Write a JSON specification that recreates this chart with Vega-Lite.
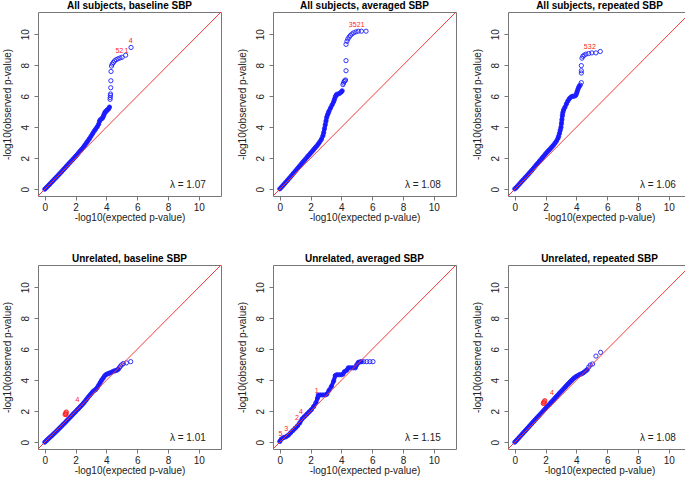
{
"$schema": "https://vega.github.io/schema/vega-lite/v6.json",
"padding": {"left": 1, "top": 0, "right": 0, "bottom": 0},
"background": "white",
"config": {"font": "Liberation Sans", "view": {"stroke": "#777", "strokeWidth": 1},
  "axis": {"grid": false, "domain": false, "tickColor": "#777", "tickSize": 4, "labelFontSize": 10, "titleFontSize": 10, "titleFontWeight": "normal", "labelColor": "#222", "titleColor": "#222", "labelOverlap": false, "labelFlush": false},
  "axisX": {"labelPadding": 2, "titlePadding": 0},
  "axisY": {"labelPadding": 4, "titlePadding": 8, "labelAngle": -90, "labelAlign": "center", "labelBaseline": "bottom"}},
"data": {"values": [
{"p":1,"e":0,"o":0},{"p":1,"e":0.1,"o":0.1},{"p":1,"e":0.2,"o":0.2},{"p":1,"e":0.3,"o":0.3},{"p":1,"e":0.4,"o":0.41},{"p":1,"e":0.5,"o":0.51},{"p":1,"e":0.6,"o":0.62},{"p":1,"e":0.7,"o":0.72},{"p":1,"e":0.8,"o":0.82},{"p":1,"e":0.9,"o":0.93},{"p":1,"e":1.0,"o":1.03},{"p":1,"e":1.1,"o":1.14},{"p":1,"e":1.2,"o":1.25},{"p":1,"e":1.3,"o":1.36},{"p":1,"e":1.4,"o":1.47},{"p":1,"e":1.5,"o":1.58},{"p":1,"e":1.6,"o":1.69},{"p":1,"e":1.7,"o":1.79},{"p":1,"e":1.8,"o":1.9},{"p":1,"e":1.9,"o":2.01},{"p":1,"e":2.0,"o":2.12},{"p":1,"e":2.1,"o":2.23},{"p":1,"e":2.2,"o":2.35},{"p":1,"e":2.3,"o":2.47},{"p":1,"e":2.4,"o":2.58},{"p":1,"e":2.5,"o":2.7},{"p":1,"e":2.6,"o":2.84},{"p":1,"e":2.7,"o":2.98},{"p":1,"e":2.8,"o":3.12},{"p":1,"e":2.9,"o":3.26},{"p":1,"e":3.0,"o":3.42},{"p":1,"e":3.1,"o":3.58},{"p":1,"e":3.2,"o":3.74},{"p":1,"e":3.3,"o":3.88},{"p":1,"e":3.4,"o":4.02},{"p":1,"e":3.5,"o":4.2},{"p":1,"e":3.55,"o":4.38},{"p":1,"e":3.6,"o":4.48},{"p":1,"e":3.7,"o":4.55},{"p":1,"e":3.75,"o":4.6},{"p":1,"e":3.8,"o":4.7},{"p":1,"e":3.85,"o":4.82},{"p":1,"e":3.9,"o":4.95},{"p":1,"e":3.95,"o":5.0},{"p":1,"e":4.0,"o":5.05},{"p":1,"e":4.05,"o":5.1},{"p":1,"e":4.1,"o":5.15},{"p":1,"e":4.15,"o":5.2},{"p":1,"e":4.2,"o":5.3},
{"p":1,"e":4.24,"o":5.8},{"p":1,"e":4.25,"o":5.92},{"p":1,"e":4.26,"o":6.05},{"p":1,"e":4.27,"o":6.15},{"p":1,"e":4.28,"o":6.55},{"p":1,"e":4.29,"o":7.0},{"p":1,"e":4.3,"o":7.6},{"p":1,"e":4.33,"o":7.95},{"p":1,"e":4.38,"o":8.08},{"p":1,"e":4.45,"o":8.18},{"p":1,"e":4.53,"o":8.28},{"p":1,"e":4.63,"o":8.36},{"p":1,"e":4.75,"o":8.42},{"p":1,"e":4.88,"o":8.47},{"p":1,"e":5.02,"o":8.52},{"p":1,"e":5.25,"o":8.65},{"p":1,"e":5.6,"o":9.15},
{"p":1,"k":"t","lab":"5","e":4.72,"o":8.9},{"p":1,"k":"t","lab":"2","e":4.96,"o":8.9},{"p":1,"k":"t","lab":"1","e":5.3,"o":8.95},{"p":1,"k":"t","lab":"4","e":5.58,"o":9.55},
{"p":1,"k":"l","lab":"λ = 1.07"},

{"p":2,"e":0,"o":0.02},{"p":2,"e":0.1,"o":0.12},{"p":2,"e":0.2,"o":0.23},{"p":2,"e":0.3,"o":0.34},{"p":2,"e":0.4,"o":0.46},{"p":2,"e":0.5,"o":0.57},{"p":2,"e":0.6,"o":0.69},{"p":2,"e":0.7,"o":0.8},{"p":2,"e":0.8,"o":0.92},{"p":2,"e":0.9,"o":1.04},{"p":2,"e":1.0,"o":1.15},{"p":2,"e":1.1,"o":1.27},{"p":2,"e":1.2,"o":1.39},{"p":2,"e":1.3,"o":1.51},{"p":2,"e":1.4,"o":1.63},{"p":2,"e":1.5,"o":1.75},{"p":2,"e":1.6,"o":1.86},{"p":2,"e":1.7,"o":1.98},{"p":2,"e":1.8,"o":2.1},{"p":2,"e":1.9,"o":2.21},{"p":2,"e":2.0,"o":2.33},{"p":2,"e":2.1,"o":2.44},{"p":2,"e":2.2,"o":2.56},{"p":2,"e":2.3,"o":2.68},{"p":2,"e":2.4,"o":2.79},{"p":2,"e":2.5,"o":2.92},{"p":2,"e":2.6,"o":3.06},{"p":2,"e":2.7,"o":3.22},{"p":2,"e":2.8,"o":3.45},{"p":2,"e":2.85,"o":3.65},{"p":2,"e":2.9,"o":3.9},{"p":2,"e":2.95,"o":4.15},{"p":2,"e":3.0,"o":4.4},{"p":2,"e":3.05,"o":4.65},{"p":2,"e":3.1,"o":4.8},{"p":2,"e":3.15,"o":4.92},{"p":2,"e":3.2,"o":5.05},{"p":2,"e":3.3,"o":5.25},{"p":2,"e":3.4,"o":5.45},{"p":2,"e":3.5,"o":5.65},{"p":2,"e":3.55,"o":5.8},{"p":2,"e":3.6,"o":5.95},{"p":2,"e":3.65,"o":6.05},{"p":2,"e":3.7,"o":6.12},{"p":2,"e":3.8,"o":6.15},{"p":2,"e":3.9,"o":6.2},{"p":2,"e":4.0,"o":6.28},{"p":2,"e":4.05,"o":6.35},
{"p":2,"e":4.1,"o":6.75},{"p":2,"e":4.14,"o":6.85},{"p":2,"e":4.18,"o":6.95},{"p":2,"e":4.22,"o":7.0},{"p":2,"e":4.27,"o":7.05},{"p":2,"e":4.3,"o":7.65},{"p":2,"e":4.3,"o":8.3},{"p":2,"e":4.3,"o":9.35},{"p":2,"e":4.36,"o":9.55},{"p":2,"e":4.42,"o":9.7},{"p":2,"e":4.5,"o":9.82},{"p":2,"e":4.58,"o":9.92},{"p":2,"e":4.68,"o":10.02},{"p":2,"e":4.8,"o":10.1},{"p":2,"e":4.95,"o":10.16},{"p":2,"e":5.1,"o":10.2},{"p":2,"e":5.3,"o":10.2},{"p":2,"e":5.6,"o":10.2},
{"p":2,"k":"t","lab":"3","e":4.6,"o":10.6},{"p":2,"k":"t","lab":"5","e":4.86,"o":10.62},{"p":2,"k":"t","lab":"2","e":5.12,"o":10.6},{"p":2,"k":"t","lab":"1","e":5.38,"o":10.6},
{"p":2,"k":"l","lab":"λ = 1.08"},

{"p":3,"e":0,"o":0.02},{"p":3,"e":0.1,"o":0.11},{"p":3,"e":0.2,"o":0.22},{"p":3,"e":0.3,"o":0.33},{"p":3,"e":0.4,"o":0.44},{"p":3,"e":0.5,"o":0.55},{"p":3,"e":0.6,"o":0.66},{"p":3,"e":0.7,"o":0.77},{"p":3,"e":0.8,"o":0.88},{"p":3,"e":0.9,"o":0.99},{"p":3,"e":1.0,"o":1.1},{"p":3,"e":1.1,"o":1.21},{"p":3,"e":1.2,"o":1.33},{"p":3,"e":1.3,"o":1.45},{"p":3,"e":1.4,"o":1.57},{"p":3,"e":1.5,"o":1.68},{"p":3,"e":1.6,"o":1.8},{"p":3,"e":1.7,"o":1.92},{"p":3,"e":1.8,"o":2.04},{"p":3,"e":1.9,"o":2.16},{"p":3,"e":2.0,"o":2.28},{"p":3,"e":2.1,"o":2.39},{"p":3,"e":2.2,"o":2.5},{"p":3,"e":2.3,"o":2.6},{"p":3,"e":2.4,"o":2.72},{"p":3,"e":2.5,"o":2.83},{"p":3,"e":2.6,"o":2.96},{"p":3,"e":2.7,"o":3.1},{"p":3,"e":2.8,"o":3.28},{"p":3,"e":2.85,"o":3.42},{"p":3,"e":2.9,"o":3.6},{"p":3,"e":2.95,"o":3.8},{"p":3,"e":3.0,"o":4.0},{"p":3,"e":3.03,"o":4.25},{"p":3,"e":3.06,"o":4.5},{"p":3,"e":3.09,"o":4.75},{"p":3,"e":3.12,"o":4.95},{"p":3,"e":3.17,"o":5.12},{"p":3,"e":3.25,"o":5.28},{"p":3,"e":3.35,"o":5.5},{"p":3,"e":3.45,"o":5.7},{"p":3,"e":3.55,"o":5.85},{"p":3,"e":3.65,"o":5.95},{"p":3,"e":3.75,"o":6.0},{"p":3,"e":3.85,"o":6.0},{"p":3,"e":3.95,"o":6.05},{"p":3,"e":4.0,"o":6.15},{"p":3,"e":4.05,"o":6.3},{"p":3,"e":4.1,"o":6.45},{"p":3,"e":4.15,"o":6.58},{"p":3,"e":4.2,"o":6.67},
{"p":3,"e":4.25,"o":6.72},{"p":3,"e":4.32,"o":6.88},{"p":3,"e":4.32,"o":7.5},{"p":3,"e":4.32,"o":7.65},{"p":3,"e":4.32,"o":7.98},{"p":3,"e":4.36,"o":8.46},{"p":3,"e":4.42,"o":8.58},{"p":3,"e":4.5,"o":8.65},{"p":3,"e":4.62,"o":8.72},{"p":3,"e":4.8,"o":8.76},{"p":3,"e":5.0,"o":8.8},{"p":3,"e":5.27,"o":8.8},{"p":3,"e":5.55,"o":8.89},
{"p":3,"k":"t","lab":"5","e":4.6,"o":9.18},{"p":3,"k":"t","lab":"3","e":4.86,"o":9.15},{"p":3,"k":"t","lab":"2","e":5.14,"o":9.18},
{"p":3,"k":"l","lab":"λ = 1.06"},

{"p":4,"e":0,"o":0},{"p":4,"e":0.1,"o":0.09},{"p":4,"e":0.2,"o":0.19},{"p":4,"e":0.3,"o":0.28},{"p":4,"e":0.4,"o":0.37},{"p":4,"e":0.5,"o":0.46},{"p":4,"e":0.6,"o":0.56},{"p":4,"e":0.7,"o":0.65},{"p":4,"e":0.8,"o":0.75},{"p":4,"e":0.9,"o":0.85},{"p":4,"e":1.0,"o":0.95},{"p":4,"e":1.1,"o":1.05},{"p":4,"e":1.2,"o":1.15},{"p":4,"e":1.3,"o":1.25},{"p":4,"e":1.4,"o":1.35},{"p":4,"e":1.5,"o":1.46},{"p":4,"e":1.6,"o":1.56},{"p":4,"e":1.7,"o":1.66},{"p":4,"e":1.8,"o":1.77},{"p":4,"e":1.9,"o":1.87},{"p":4,"e":2.0,"o":1.97},{"p":4,"e":2.1,"o":2.08},{"p":4,"e":2.2,"o":2.18},{"p":4,"e":2.3,"o":2.29},{"p":4,"e":2.4,"o":2.39},{"p":4,"e":2.5,"o":2.5},{"p":4,"e":2.6,"o":2.62},{"p":4,"e":2.7,"o":2.75},{"p":4,"e":2.8,"o":2.88},{"p":4,"e":2.9,"o":3.0},{"p":4,"e":3.0,"o":3.12},{"p":4,"e":3.1,"o":3.24},{"p":4,"e":3.2,"o":3.33},{"p":4,"e":3.3,"o":3.4},{"p":4,"e":3.4,"o":3.52},{"p":4,"e":3.5,"o":3.68},{"p":4,"e":3.6,"o":3.85},{"p":4,"e":3.7,"o":4.02},{"p":4,"e":3.8,"o":4.15},{"p":4,"e":3.9,"o":4.3},{"p":4,"e":4.0,"o":4.38},{"p":4,"e":4.1,"o":4.42},{"p":4,"e":4.2,"o":4.46},{"p":4,"e":4.3,"o":4.5},{"p":4,"e":4.4,"o":4.55},{"p":4,"e":4.5,"o":4.6},{"p":4,"e":4.6,"o":4.62},{"p":4,"e":4.7,"o":4.66},{"p":4,"e":4.78,"o":4.72},
{"p":4,"e":4.85,"o":4.82},{"p":4,"e":4.92,"o":4.92},{"p":4,"e":5.0,"o":5.0},{"p":4,"e":5.1,"o":5.08},{"p":4,"e":5.3,"o":5.12},{"p":4,"e":5.58,"o":5.2},
{"p":4,"k":"r","e":1.32,"o":1.78},{"p":4,"k":"r","e":1.35,"o":1.84},{"p":4,"k":"r","e":1.37,"o":1.9},{"p":4,"k":"r","e":1.4,"o":1.95},{"p":4,"k":"r","e":1.38,"o":1.8},
{"p":4,"k":"t","lab":"4","e":2.12,"o":2.7},
{"p":4,"k":"l","lab":"λ = 1.01"},

{"p":5,"e":0,"o":0.05},{"p":5,"e":0.1,"o":0.2},{"p":5,"e":0.25,"o":0.3},{"p":5,"e":0.4,"o":0.35},{"p":5,"e":0.55,"o":0.45},{"p":5,"e":0.7,"o":0.6},{"p":5,"e":0.85,"o":0.75},{"p":5,"e":1.0,"o":0.9},{"p":5,"e":1.15,"o":1.05},{"p":5,"e":1.3,"o":1.25},{"p":5,"e":1.45,"o":1.5},{"p":5,"e":1.6,"o":1.65},{"p":5,"e":1.75,"o":1.8},{"p":5,"e":1.9,"o":1.95},{"p":5,"e":2.05,"o":2.1},{"p":5,"e":2.2,"o":2.3},{"p":5,"e":2.35,"o":2.55},{"p":5,"e":2.45,"o":2.85},{"p":5,"e":2.5,"o":3.05},{"p":5,"e":2.65,"o":3.05},{"p":5,"e":2.8,"o":3.05},{"p":5,"e":2.95,"o":3.05},{"p":5,"e":3.05,"o":3.1},{"p":5,"e":3.2,"o":3.35},{"p":5,"e":3.35,"o":3.6},{"p":5,"e":3.5,"o":3.95},{"p":5,"e":3.6,"o":4.3},{"p":5,"e":3.7,"o":4.35},{"p":5,"e":3.85,"o":4.35},{"p":5,"e":4.0,"o":4.35},{"p":5,"e":4.1,"o":4.4},{"p":5,"e":4.2,"o":4.55},{"p":5,"e":4.35,"o":4.65},{"p":5,"e":4.45,"o":4.8},{"p":5,"e":4.6,"o":4.8},{"p":5,"e":4.75,"o":4.8},{"p":5,"e":4.9,"o":4.8},{"p":5,"e":5.0,"o":5.0},{"p":5,"e":5.1,"o":5.15},{"p":5,"e":5.2,"o":5.18},{"p":5,"e":5.3,"o":5.2},
{"p":5,"e":5.45,"o":5.2},{"p":5,"e":5.65,"o":5.2},{"p":5,"e":5.85,"o":5.2},{"p":5,"e":6.05,"o":5.2},
{"p":5,"k":"t","lab":"5","e":0.05,"o":0.55},{"p":5,"k":"t","lab":"3","e":0.42,"o":0.85},{"p":5,"k":"t","lab":"2","e":1.12,"o":1.55},{"p":5,"k":"t","lab":"4","e":1.38,"o":1.95},{"p":5,"k":"t","lab":"1","e":2.4,"o":3.3},
{"p":5,"k":"l","lab":"λ = 1.15"},

{"p":6,"e":0,"o":0},{"p":6,"e":0.1,"o":0.1},{"p":6,"e":0.2,"o":0.21},{"p":6,"e":0.3,"o":0.32},{"p":6,"e":0.4,"o":0.43},{"p":6,"e":0.5,"o":0.54},{"p":6,"e":0.6,"o":0.65},{"p":6,"e":0.7,"o":0.76},{"p":6,"e":0.8,"o":0.87},{"p":6,"e":0.9,"o":0.98},{"p":6,"e":1.0,"o":1.09},{"p":6,"e":1.1,"o":1.2},{"p":6,"e":1.2,"o":1.31},{"p":6,"e":1.3,"o":1.42},{"p":6,"e":1.4,"o":1.53},{"p":6,"e":1.5,"o":1.64},{"p":6,"e":1.6,"o":1.74},{"p":6,"e":1.7,"o":1.85},{"p":6,"e":1.8,"o":1.96},{"p":6,"e":1.9,"o":2.07},{"p":6,"e":2.0,"o":2.18},{"p":6,"e":2.1,"o":2.29},{"p":6,"e":2.2,"o":2.4},{"p":6,"e":2.3,"o":2.51},{"p":6,"e":2.4,"o":2.62},{"p":6,"e":2.5,"o":2.72},{"p":6,"e":2.6,"o":2.83},{"p":6,"e":2.7,"o":2.94},{"p":6,"e":2.8,"o":3.05},{"p":6,"e":2.9,"o":3.16},{"p":6,"e":3.0,"o":3.27},{"p":6,"e":3.1,"o":3.37},{"p":6,"e":3.2,"o":3.48},{"p":6,"e":3.3,"o":3.59},{"p":6,"e":3.4,"o":3.7},{"p":6,"e":3.5,"o":3.8},{"p":6,"e":3.6,"o":3.9},{"p":6,"e":3.7,"o":4.0},{"p":6,"e":3.8,"o":4.1},{"p":6,"e":3.9,"o":4.18},{"p":6,"e":4.0,"o":4.25},{"p":6,"e":4.1,"o":4.3},{"p":6,"e":4.2,"o":4.36},{"p":6,"e":4.3,"o":4.4},{"p":6,"e":4.4,"o":4.45},{"p":6,"e":4.5,"o":4.52},{"p":6,"e":4.6,"o":4.6},{"p":6,"e":4.7,"o":4.68},
{"p":6,"e":4.8,"o":4.85},{"p":6,"e":4.9,"o":4.98},{"p":6,"e":5.05,"o":5.05},{"p":6,"e":5.27,"o":5.56},{"p":6,"e":5.57,"o":5.8},
{"p":6,"k":"r","e":1.85,"o":2.5},{"p":6,"k":"r","e":1.88,"o":2.58},{"p":6,"k":"r","e":1.92,"o":2.62},{"p":6,"k":"r","e":1.95,"o":2.68},{"p":6,"k":"r","e":1.9,"o":2.52},
{"p":6,"k":"t","lab":"4","e":2.42,"o":3.15},
{"p":6,"k":"l","lab":"λ = 1.08"}
]},
"facet": {"field": "p", "type": "ordinal", "title": null,
  "header": {"labelFontSize": 10, "labelFontWeight": "bold", "labelPadding": 1, "labelColor": "#000",
    "labelExpr": "['All subjects, baseline SBP','All subjects, averaged SBP','All subjects, repeated SBP','Unrelated, baseline SBP','Unrelated, averaged SBP','Unrelated, repeated SBP'][datum.value-1]"}},
"columns": 3,
"spacing": {"column": 14, "row": 30},
"resolve": {"axis": {"x": "independent", "y": "independent"}},
"spec": {
  "width": 183, "height": 184,
  "layer": [
    {"transform": [{"filter": "!datum.k && datum.e <= [4.2,4.05,4.2,4.78,5.3,4.7][datum.p-1]"}],
     "mark": {"type": "line", "color": "#1414ff", "strokeWidth": 4, "strokeCap": "round", "strokeJoin": "round"},
     "encoding": {
       "x": {"field": "e", "type": "quantitative", "scale": {"domain": [-0.44, 11.44], "nice": false, "zero": false},
             "axis": {"values": [0,2,4,6,8,10], "title": "-log10(expected p-value)"}},
       "y": {"field": "o", "type": "quantitative", "scale": {"domain": [-0.44, 11.44], "nice": false, "zero": false},
             "axis": {"values": [0,2,4,6,8,10], "title": "-log10(observed p-value)"}},
       "order": {"field": "e", "type": "quantitative"}
     }},
    {"transform": [{"filter": "!datum.k"}],
     "mark": {"type": "point", "shape": "circle", "filled": false, "size": 18, "strokeWidth": 0.9, "color": "#1f1fff", "opacity": 1},
     "encoding": {
       "x": {"field": "e", "type": "quantitative", "axis": {"values": [0,2,4,6,8,10], "title": "-log10(expected p-value)"}},
       "y": {"field": "o", "type": "quantitative", "axis": {"values": [0,2,4,6,8,10], "title": "-log10(observed p-value)"}}
     }},
    {"transform": [{"filter": "datum.k == 'r'"}],
     "mark": {"type": "point", "shape": "circle", "filled": false, "size": 18, "strokeWidth": 0.9, "color": "#ff2020", "opacity": 1},
     "encoding": {
       "x": {"field": "e", "type": "quantitative", "axis": {"values": [0,2,4,6,8,10], "title": "-log10(expected p-value)"}},
       "y": {"field": "o", "type": "quantitative", "axis": {"values": [0,2,4,6,8,10], "title": "-log10(observed p-value)"}}
     }},
    {"transform": [{"filter": "datum.k == 'l'"}],
     "mark": {"type": "rule", "color": "#f03a3a", "strokeWidth": 1},
     "encoding": {
       "x": {"datum": -0.44, "type": "quantitative", "axis": {"values": [0,2,4,6,8,10], "title": "-log10(expected p-value)"}},
       "y": {"datum": -0.44, "type": "quantitative", "axis": {"values": [0,2,4,6,8,10], "title": "-log10(observed p-value)"}},
       "x2": {"datum": 11.44},
       "y2": {"datum": 11.44}
     }},
    {"transform": [{"filter": "datum.k == 't'"}],
     "mark": {"type": "text", "fontSize": 7, "color": "#ff2020", "align": "center", "baseline": "middle"},
     "encoding": {
       "x": {"field": "e", "type": "quantitative", "axis": {"values": [0,2,4,6,8,10], "title": "-log10(expected p-value)"}},
       "y": {"field": "o", "type": "quantitative", "axis": {"values": [0,2,4,6,8,10], "title": "-log10(observed p-value)"}},
       "text": {"field": "lab"}
     }},
    {"transform": [{"filter": "datum.k == 'l'"}],
     "mark": {"type": "text", "fontSize": 10, "color": "#222", "align": "right", "baseline": "middle"},
     "encoding": {
       "x": {"datum": 10.45, "type": "quantitative", "axis": {"values": [0,2,4,6,8,10], "title": "-log10(expected p-value)"}},
       "y": {"datum": 0.3, "type": "quantitative", "axis": {"values": [0,2,4,6,8,10], "title": "-log10(observed p-value)"}},
       "text": {"field": "lab"}
     }}
  ]
}
}
